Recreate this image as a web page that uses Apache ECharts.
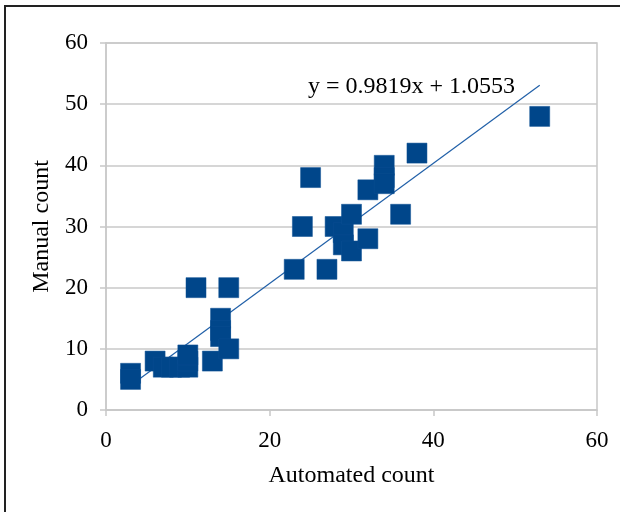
<!DOCTYPE html>
<html>
<head>
<meta charset="utf-8">
<script src="https://cdn.jsdelivr.net/npm/echarts@6/dist/echarts.min.js"></script>
<style>html,body{margin:0;padding:0;background:#fff;}#c{width:620px;height:512px;}</style>
</head>
<body>
<div id="c"></div>
<script>
const automated = [3,3,6,7,8,9,10,10,10,11,13,14,14,14,15,15,23,24,25,27,28,29,29,30,30,32,32,34,34,34,36,38,53];
const manual    = [6,5,8,7,7,7,7,8,9,20,8,15,13,12,10,20,23,30,38,23,30,29,27,26,32,28,36,40,38,37,32,42,48];
const slope = 0.9819;
const intercept = 1.0553;
const xTicks = [0,20,40,60];
const yTicks = [0,10,20,30,40,50,60];
const equationText = 'y = 0.9819x + 1.0553';

const points = automated.map((x,i)=>[x, manual[i]]);
const xMin = Math.min(...automated), xMax = Math.max(...automated);
const trend = [[xMin, slope*xMin+intercept],[xMax, slope*xMax+intercept]];

const font = '"Liberation Serif", "Times New Roman", serif';
const chart = echarts.init(document.getElementById('c'), null, {renderer:'canvas'});
chart.setOption({
  animation:false,
  backgroundColor:'#fff',
  grid:{left:106,right:23,top:43,bottom:102,show:true,borderColor:'#c8c8c8',borderWidth:1.5},
  xAxis:{
    type:'value',min:xTicks[0],max:xTicks[xTicks.length-1],interval:20,
    name:'Automated count',nameLocation:'middle',nameGap:54,
    nameTextStyle:{fontFamily:font,fontSize:24,color:'#000'},
    axisLine:{show:true,lineStyle:{color:'#c8c8c8',width:1.5}},
    axisTick:{show:true,inside:false,length:6,lineStyle:{color:'#c8c8c8',width:1.5}},
    splitLine:{show:false},
    axisLabel:{fontFamily:font,fontSize:23,color:'#000',margin:19}
  },
  yAxis:{
    type:'value',min:yTicks[0],max:yTicks[yTicks.length-1],interval:10,
    name:'Manual count',nameLocation:'middle',nameGap:52,nameRotate:90,
    nameTextStyle:{fontFamily:font,fontSize:24,color:'#000'},
    axisLine:{show:true,lineStyle:{color:'#c8c8c8',width:1.5}},
    axisTick:{show:true,inside:false,length:6,lineStyle:{color:'#c8c8c8',width:1.5}},
    splitLine:{show:true,lineStyle:{color:'#c8c8c8',width:1.5}},
    axisLabel:{fontFamily:font,fontSize:23,color:'#000',margin:18}
  },
  series:[
    {type:'line',data:trend,symbol:'none',lineStyle:{color:'#2160a8',width:1.2},z:2,silent:true},
    {type:'scatter',data:points,symbol:'rect',symbolSize:20,
     itemStyle:{color:'#00468a',opacity:1,borderColor:'#0a4f92',borderWidth:0.5},z:3}
  ],
  graphic:[
    {type:'rect',shape:{x:5,y:6,width:700,height:600},style:{fill:'none',stroke:'#222',lineWidth:2},silent:true},
    {type:'text',left:308,top:75,style:{text:equationText,font:'24px '+font,fill:'#000'}}
  ]
});
</script>
</body>
</html>
